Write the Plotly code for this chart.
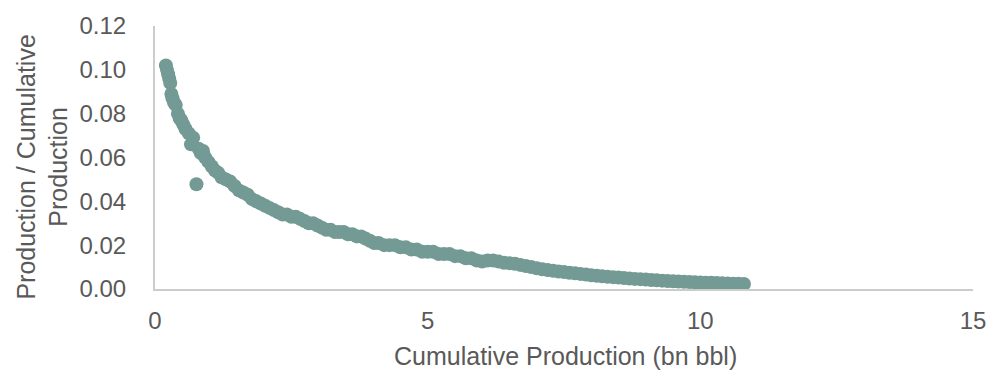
import plotly.graph_objects as go

cum_prod = [0.20, 0.22, 0.24, 0.26, 0.28, 0.30, 0.32, 0.35, 0.38, 0.42, 0.45, 0.48,
            0.52, 0.56, 0.62, 0.66, 0.70, 0.76, 0.80, 0.84, 0.88, 0.92, 0.98, 1.04,
            1.10, 1.16, 1.22, 1.30, 1.38, 1.46, 1.54, 1.62, 1.70, 1.78, 1.86, 1.94,
            2.02, 2.10, 2.18, 2.26, 2.34, 2.42, 2.50, 2.58, 2.66, 2.74, 2.82, 2.90,
            2.98, 3.06, 3.14, 3.22, 3.30, 3.38, 3.46, 3.54, 3.62, 3.70, 3.78, 3.86,
            3.94, 4.02, 4.10, 4.20, 4.30, 4.40, 4.50, 4.60, 4.70, 4.80, 4.90, 5.00,
            5.10, 5.20, 5.30, 5.40, 5.50, 5.60, 5.70, 5.80, 5.90, 6.00, 6.10, 6.20,
            6.30, 6.40, 6.50, 6.60, 6.70, 6.80, 6.90, 7.00, 7.10, 7.20, 7.30, 7.40,
            7.50, 7.60, 7.70, 7.80, 7.90, 8.00, 8.10, 8.20, 8.30, 8.40, 8.50, 8.60,
            8.70, 8.80, 8.90, 9.00, 9.10, 9.20, 9.30, 9.40, 9.50, 9.60, 9.70, 9.80,
            9.90, 10.00, 10.10, 10.20, 10.30, 10.40, 10.50, 10.60, 10.70, 10.80]

ratio = [0.102, 0.100, 0.098, 0.096, 0.094, 0.089, 0.087, 0.085, 0.084, 0.080, 0.078, 0.077,
         0.075, 0.073, 0.071, 0.066, 0.069, 0.0478, 0.064, 0.062, 0.063, 0.060, 0.058, 0.056,
         0.054, 0.053, 0.051, 0.050, 0.049, 0.047, 0.045, 0.044, 0.043, 0.041, 0.040, 0.039,
         0.038, 0.037, 0.036, 0.035, 0.034, 0.034, 0.033, 0.033, 0.032, 0.031, 0.030, 0.030,
         0.029, 0.028, 0.027, 0.027, 0.026, 0.026, 0.026, 0.025, 0.025, 0.024, 0.024, 0.023,
         0.022, 0.021, 0.021, 0.020, 0.020, 0.020, 0.019, 0.019, 0.018, 0.018, 0.017, 0.017,
         0.017, 0.016, 0.016, 0.016, 0.015, 0.015, 0.014, 0.014, 0.013, 0.0125, 0.013, 0.013,
         0.0125, 0.012, 0.0118, 0.0115, 0.011, 0.0105, 0.010, 0.0095, 0.009, 0.0087, 0.0083, 0.008,
         0.0077, 0.0074, 0.0072, 0.0069, 0.0066, 0.0063, 0.0060, 0.0058, 0.0056, 0.0054, 0.0052, 0.0050,
         0.0048, 0.0046, 0.0045, 0.0043, 0.0041, 0.0040, 0.0038, 0.0036, 0.0035, 0.0034, 0.0033, 0.0032,
         0.0031, 0.0030, 0.0029, 0.0028, 0.0027, 0.0026, 0.0025, 0.0024, 0.0024, 0.0023]

x_ticks = [0, 5, 10, 15]
y_ticks = [0.00, 0.02, 0.04, 0.06, 0.08, 0.10, 0.12]

FONT = "Liberation Sans, Arial, sans-serif"
TXT = "#595959"
AXIS = "#cccccc"

fig = go.Figure(go.Scatter(
    x=cum_prod, y=ratio, mode="markers",
    marker=dict(size=14, color="#739A94", line=dict(width=0)),
    showlegend=False, hoverinfo="x+y",
))

fig.update_layout(
    width=998, height=381,
    margin=dict(l=155, r=21, t=23, b=92),
    paper_bgcolor="white", plot_bgcolor="white",
    font=dict(family=FONT, color=TXT, size=24),
    xaxis=dict(range=[0, 15], tickvals=x_ticks, ticktext=[str(v) for v in x_ticks],
               showgrid=False, zeroline=False, showline=True, linecolor=AXIS, linewidth=2,
               ticks="", ticklabelstandoff=9, tickfont=dict(size=24, color=TXT)),
    yaxis=dict(range=[0, 0.12], tickvals=y_ticks, ticktext=["%.2f" % v for v in y_ticks],
               showgrid=False, zeroline=False, showline=True, linecolor=AXIS, linewidth=2,
               ticks="", ticklabelstandoff=22, tickfont=dict(size=24, color=TXT)),
    annotations=[
        dict(text="Production / Cumulative<br>Production", textangle=-90,
             xref="paper", yref="paper", x=-0.138, y=0.462, xanchor="center", yanchor="middle",
             showarrow=False, font=dict(size=25, color=TXT, family=FONT)),
        dict(text="Cumulative Production (bn bbl)",
             xref="paper", yref="paper", x=0.502, y=-0.255, xanchor="center", yanchor="middle",
             showarrow=False, font=dict(size=25, color=TXT, family=FONT)),
    ],
)

fig.write_html("out.html")
